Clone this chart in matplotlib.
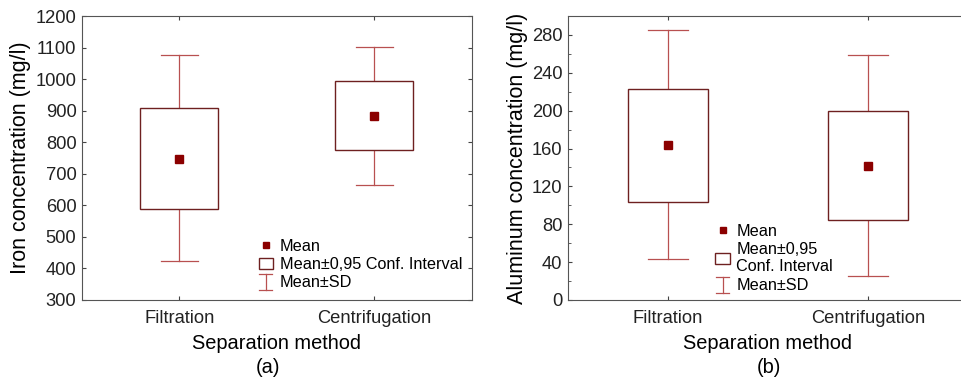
import matplotlib.pyplot as plt
from matplotlib.lines import Line2D
from matplotlib.patches import Rectangle
from matplotlib.legend_handler import HandlerBase

plt.rcParams['font.family'] = ['Liberation Sans', 'DejaVu Sans']

methods = ['Filtration', 'Centrifugation']

# iron (panel a)
fe_mean = [748, 882]
fe_ci_low = [588, 775]
fe_ci_high = [910, 993]
fe_sd_low = [425, 663]
fe_sd_high = [1075, 1103]

# aluminum (panel b)
al_mean = [164, 142]
al_ci_low = [103, 84]
al_ci_high = [223, 200]
al_sd_low = [43, 25]
al_sd_high = [285, 259]

box_col = '#6e2020'
wh_col = '#b85050'
mean_col = '#8b0000'


class IBeam:
    pass


class HandlerIBeam(HandlerBase):
    # draws the small "I" symbol used for Mean±SD
    def create_artists(self, legend, orig_handle, xd, yd, width, height, fontsize, trans):
        cx = xd + width / 2
        w = width * 0.45
        y0, y1 = yd - height * 0.25, yd + height * 1.15
        kw = dict(color=wh_col, lw=0.9, transform=trans)
        return [Line2D([cx, cx], [y0, y1], **kw),
                Line2D([cx - w, cx + w], [y0, y0], **kw),
                Line2D([cx - w, cx + w], [y1, y1], **kw)]


def draw_panel(ax, mean, ci_lo, ci_hi, sd_lo, sd_hi, bw, cw):
    for i in range(len(mean)):
        # whiskers (SD)
        ax.plot([i, i], [sd_lo[i], ci_lo[i]], color=wh_col, lw=0.9, zorder=1)
        ax.plot([i, i], [ci_hi[i], sd_hi[i]], color=wh_col, lw=0.9, zorder=1)
        ax.plot([i - cw / 2, i + cw / 2], [sd_lo[i]] * 2, color=wh_col, lw=0.9)
        ax.plot([i - cw / 2, i + cw / 2], [sd_hi[i]] * 2, color=wh_col, lw=0.9)
        ax.add_patch(Rectangle((i - bw / 2, ci_lo[i]), bw, ci_hi[i] - ci_lo[i],
                               facecolor='white', edgecolor=box_col, lw=1.0, zorder=2))
    ax.plot(range(len(mean)), mean, 's', color=mean_col, ms=6, zorder=3, ls='none')
    ax.set_xlim(-0.5, 1.5)
    ax.set_xticks(range(len(methods)))
    ax.set_xticklabels(methods, fontsize=13.2)
    ax.set_xlabel('Separation method', fontsize=14.4, labelpad=5)
    ax.tick_params(direction='in', length=3, colors='#444444', labelcolor='#222222',
                   labelsize=13.2, right=True, top=True)
    ax.tick_params(axis='x', pad=7)
    ax.tick_params(axis='y', pad=4)
    for s in ax.spines.values():
        s.set_color('#555555')
        s.set_linewidth(0.8)


fig = plt.figure(figsize=(9.62, 3.81), dpi=100)

ax1 = fig.add_axes([0.0852, 0.2126, 0.4054, 0.7454])
draw_panel(ax1, fe_mean, fe_ci_low, fe_ci_high, fe_sd_low, fe_sd_high, 0.4, 0.19)
ax1.set_ylim(300, 1200)
ax1.set_yticks(range(300, 1201, 100))
ax1.set_ylabel('Iron concentration (mg/l)', fontsize=15.5, labelpad=3)
fig.text(0.2785, 0.02, '(a)', fontsize=14.4, ha='center')

ax2 = fig.add_axes([0.5904, 0.2126, 0.4158, 0.7454])
draw_panel(ax2, al_mean, al_ci_low, al_ci_high, al_sd_low, al_sd_high, 0.4, 0.2)
ax2.set_ylim(0, 300)
ax2.set_yticks(range(0, 281, 40))
ax2.set_yticks(range(20, 300, 40), minor=True)
ax2.tick_params(which='minor', direction='in', length=2, colors='#444444')
ax2.set_ylabel('Aluminum concentration (mg/l)', fontsize=15.5, labelpad=3)
fig.text(0.7995, 0.02, '(b)', fontsize=14.4, ha='center')

handles = [
    Line2D([], [], marker='s', color=mean_col, ls='none', ms=5),
    Rectangle((0, 0), 1, 1, facecolor='white', edgecolor=box_col, lw=1),
    IBeam(),
]
hmap = {IBeam: HandlerIBeam()}
ax1.legend(handles, ['Mean', 'Mean\u00b10,95 Conf. Interval', 'Mean\u00b1SD'],
           handler_map=hmap,
           loc='lower right', bbox_to_anchor=(1.0, 0.0), frameon=False, fontsize=11.7,
           handlelength=0.9, handletextpad=0.4, labelspacing=0.2, borderaxespad=0.2)
ax2.legend(handles, ['Mean', 'Mean\u00b10,95\nConf. Interval', 'Mean\u00b1SD'],
           handler_map=hmap,
           loc='lower left', bbox_to_anchor=(0.35, 0.0), frameon=False, fontsize=11.7,
           handlelength=0.9, handletextpad=0.4, labelspacing=0.2, borderaxespad=0.05)

fig.savefig('out.png', dpi=100)
